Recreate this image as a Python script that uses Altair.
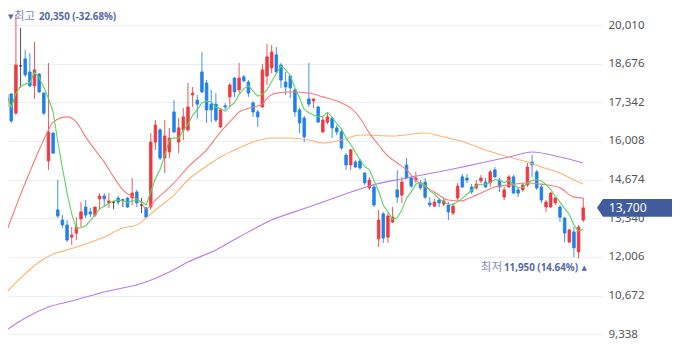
import altair as alt
import pandas as pd

# ---- daily candles (125 sessions) ----
opens = [17180,17630,16970,18600,18840,18390,17910,18320,17660,15320,
         16280,13630,13280,13110,12690,12830,13320,13730,13560,13450,
         14010,14110,13870,13900,14040,13970,14040,14040,14250,13800,
         13700,13730,15970,16390,15420,15630,17010,15970,16390,16390,
         17600,17420,18390,18010,17280,17280,16490,17220,17530,18180,
         17770,18220,18040,17320,17010,17180,18250,18530,18980,18630,
         18040,18250,17770,17080,16800,17460,17390,17180,16320,16660,
         16800,16460,16320,15520,15180,15280,15320,14900,14390,14420,
         12630,13490,12690,13210,14320,14140,15180,14730,14660,14560,
         14590,13870,13760,13970,13830,13800,13520,14040,14770,14730,
         14420,14390,14630,14590,14560,15010,14660,14070,14420,14770,
         14320,14320,14490,15280,14940,14420,13730,13730,13870,13730,
         13350,12520,12870,12180,13280]
closes = [17630,16700,18630,18600,18290,17910,18460,17700,16970,16320,
          15590,13420,13110,12590,12760,13040,13560,13450,13490,13730,
          14110,14010,13940,13900,13900,13970,13730,14210,13870,13800,
          13380,15970,16560,15420,16180,16110,16320,16460,16840,17180,
          17660,17280,17700,17080,17080,16730,17080,17180,17940,17700,
          18180,18080,17660,17010,16840,18460,18910,19080,18390,18110,
          17870,17840,17010,16630,16150,17280,17460,16660,16730,16840,
          16460,16320,15770,15180,15700,15110,15080,14560,14660,13800,
          13280,12660,13420,13380,14070,14590,14730,14450,14730,14390,
          14070,13800,13900,13870,13940,13560,13760,14450,14420,14660,
          14250,14520,14730,14420,14940,14770,14420,14320,14770,14210,
          14210,14490,15110,15180,14390,13970,13900,14210,14040,13380,
          12830,12940,12320,13040,13700]
highs = [19390,17660,20350,19910,19150,19040,19420,18350,17700,18700,
         16320,14660,13450,13280,13040,13380,13900,13970,13700,13730,
         14210,14210,14210,13940,14110,14010,14070,14730,14320,14040,
         13730,16280,16730,16460,16730,16460,17420,16800,17150,18010,
         17870,17600,19080,18110,17770,17660,17110,17320,18010,18220,
         18700,18290,18110,17390,17080,18660,19360,19320,19250,18700,
         18390,18290,17800,17150,16870,18700,17460,17220,16840,16970,
         16840,16560,16390,15590,15730,15350,15390,14940,14770,14490,
         13630,13560,13520,13730,15010,14770,15420,14800,14940,14660,
         14730,14070,14010,14040,14010,13900,13870,14560,14870,14870,
         14520,14660,14830,14730,15010,15110,14730,14420,14830,14830,
         14420,14560,15250,15520,15010,14490,13970,14250,14070,13800,
         13380,12970,13040,13110,14040]
lows = [16970,16630,16900,17840,18220,17870,17460,17660,16900,15010,
        15560,13350,13010,12520,12420,12590,13040,13350,13380,13380,
        13660,13730,13700,13660,13800,13730,13700,13800,13730,13520,
        13350,13630,15700,15350,14900,15420,16280,15590,16040,16320,
        17180,16800,17660,16630,16660,16660,16460,17080,17180,17530,
        17660,18040,17530,16840,16490,17150,17940,18350,18350,17840,
        17600,17490,16840,16280,15970,17180,17150,16630,16280,16590,
        16110,16210,15700,15010,15010,15080,15010,14490,14320,13730,
        12350,12490,12490,13180,13870,13870,14700,14390,14560,14320,
        14010,13730,13730,13730,13760,13280,13450,13970,14390,14560,
        14180,14320,14560,14390,14420,14730,14250,13970,14390,14180,
        14070,14250,14420,14770,14320,13870,13560,13700,13800,13210,
        12520,12490,12000,11950,13210]

# ---- moving averages (session index -> value) ----
ma20_idx = [0,4,7,9,10,13,15,17,19,21,23,25,29,30,32,36,39,43,46,49,
            50,53,55,56,57,58,61,65,68,72,74,76,78,80,82,84,86,88,92,95,
            98,99,101,103,105,108,112,115,119,122,124]
ma20_val = [12900,14560,15700,16390,16660,16840,16660,16150,15700,15280,
            14770,14320,13870,13660,13970,14560,15110,15700,16320,16840,
            17010,17180,17280,17490,17600,17660,17700,17660,17530,17320,
            17150,16800,16280,15870,15490,15250,15010,14660,14250,13970,
            13940,14010,14140,14280,14420,14490,14560,14520,14390,14070,
            14040]
ma60_idx = [0,3,7,10,13,21,25,28,30,32,36,39,43,46,50,53,57,61,65,68,
            72,76,83,90,94,99,103,108,112,115,119,122,124]
ma60_val = [10796,11279,11831,12107,12246,12694,13005,13108,13350,13626,
            14143,14661,15144,15455,15765,15973,16111,16111,16042,15938,
            16042,16214,16180,16283,16145,15938,15696,15455,15282,15110,
            14903,14661,14523]
ma120_idx = [0,4,9,14,21,30,35,39,45,50,57,65,71,76,78,86,97,101,108,113,119,124]
ma120_val = [9485,9899,10278,10485,10796,11141,11486,11831,12246,12694,13281,
             13729,14074,14351,14454,14730,15075,15213,15455,15627,15455,15248]

y_ticks = [9338, 10672, 12006, 13340, 14674, 16008, 17342, 18676, 20010]

# ---- layout ----
W, H = 594, 338
YMIN, YMAX = 8934, 20596.6
XMIN, XMAX = 1.374, 126.96


def ypx(v):
    return (YMAX - v) / (YMAX - YMIN) * H


n = len(opens)
df = pd.DataFrame({
    "i": list(range(n)), "open": opens, "close": closes,
    "high": highs, "low": lows,
})
df["dir"] = ["up" if c > o else ("down" if c < o else "flat")
             for o, c in zip(opens, closes)]

xscale = alt.Scale(domain=[XMIN, XMAX], nice=False, zero=False)
yscale = alt.Scale(domain=[YMIN, YMAX], nice=False, zero=False)
yaxis = alt.Axis(values=y_ticks, format=",d", orient="right", title=None,
                 grid=True, gridColor="#eceef5", gridWidth=1, domain=False,
                 ticks=False, labelPadding=6, labelFontSize=11.5,
                 labelColor="#555555", labelFont="Noto Sans")
cscale = alt.Scale(domain=["up", "down", "flat"],
                   range=["#ec3a40", "#1f80ea", "#333333"])

X = alt.X("i:Q", scale=xscale, axis=None, title=None)

base = alt.Chart(df)
wicks = base.mark_rule(strokeWidth=1, clip=True, opacity=0.85).encode(
    x=X,
    y=alt.Y("low:Q", scale=yscale, axis=yaxis, title=None),
    y2="high:Q",
    color=alt.Color("dir:N", scale=cscale, legend=None),
)
bodies = base.mark_bar(size=2.6, strokeWidth=0.8, clip=True, orient="vertical").encode(
    x=X,
    y=alt.Y("open:Q", scale=yscale, title=None),
    y2="close:Q",
    color=alt.Color("dir:N", scale=cscale, legend=None),
    stroke=alt.Stroke("dir:N", scale=cscale, legend=None),
)

ma5 = base.transform_window(
    ma5="mean(close)", frame=[-4, 0], sort=[alt.SortField("i")]
).mark_line(color="#5fd25f", strokeWidth=1.1, clip=True).encode(
    x=X, y=alt.Y("ma5:Q", scale=yscale, title=None)
)


def ma_line(idx, vals, color):
    d = pd.DataFrame({"i": idx, "v": vals})
    return alt.Chart(d).mark_line(color=color, strokeWidth=1.1, clip=True,
                                  interpolate="monotone").encode(
        x=X, y=alt.Y("v:Q", scale=yscale, title=None)
    )


ma20 = ma_line(ma20_idx, ma20_val, "#f77b7b")
ma60 = ma_line(ma60_idx, ma60_val, "#fdb36f")
ma120 = ma_line(ma120_idx, ma120_val, "#b47cf5")

one = pd.DataFrame({"a": [0]})
last = closes[-1]
hi = max(highs)
lo = min(lows)
hi_pct = (last - hi) / hi * 100
lo_pct = (last - lo) / lo * 100

TAG = "M-1,0L-0.857,-0.214L1,-0.214L1,0.214L-0.857,0.214Z"
tag = alt.Chart(one).mark_point(shape=TAG, filled=True, size=84 * 84,
                                 color="#415c9c", opacity=1, strokeWidth=0).encode(
    x=alt.value(631), y=alt.value(ypx(last))
)
tag_text = alt.Chart(one).mark_text(
    text=f"{last:,}", align="left", baseline="middle", color="white",
    fontSize=12, font="Noto Sans"
).encode(x=alt.value(601), y=alt.value(ypx(last)))

LBL = "#5468a8"
LBL2 = "#7f8cbb"
top_y = 9
t1 = alt.Chart(one).mark_text(text="▼", align="left", baseline="middle",
                              color=LBL, fontSize=7, font="DejaVu Sans").encode(
    x=alt.value(0), y=alt.value(top_y))
t2 = alt.Chart(one).mark_text(text="최고", align="left", baseline="middle",
                              color=LBL2, fontSize=11.5, font="Noto Sans CJK KR").encode(
    x=alt.value(6), y=alt.value(top_y))
t3 = alt.Chart(one).mark_text(text=f"{hi:,} ({hi_pct:.2f}%)", align="left",
                              baseline="middle", color=LBL, fontSize=9.8,
                              fontWeight="bold", font="Noto Sans").encode(
    x=alt.value(31), y=alt.value(top_y))

low_y = ypx(lo) + 9
b1 = alt.Chart(one).mark_text(text="▲", align="right", baseline="middle",
                              color=LBL, fontSize=7, font="DejaVu Sans").encode(
    x=alt.value(579), y=alt.value(low_y))
b2 = alt.Chart(one).mark_text(text=f"{lo:,} ({lo_pct:.2f}%)", align="right",
                              baseline="middle", color=LBL, fontSize=9.8,
                              fontWeight="bold", font="Noto Sans").encode(
    x=alt.value(570), y=alt.value(low_y))
b3 = alt.Chart(one).mark_text(text="최저", align="right", baseline="middle",
                              color=LBL2, fontSize=11.5, font="Noto Sans CJK KR").encode(
    x=alt.value(494), y=alt.value(low_y))

chart = alt.layer(
    wicks, bodies, ma120, ma60, ma20, ma5, tag, tag_text, t1, t2, t3, b1, b2, b3
).properties(
    width=W, height=H,
    autosize=alt.AutoSizeParams(type="none"),
    padding={"left": 0, "right": 70, "top": 0, "bottom": 0},
).configure_view(strokeWidth=0)

chart.save("out.html", embed_options={"renderer": "svg", "actions": False})
